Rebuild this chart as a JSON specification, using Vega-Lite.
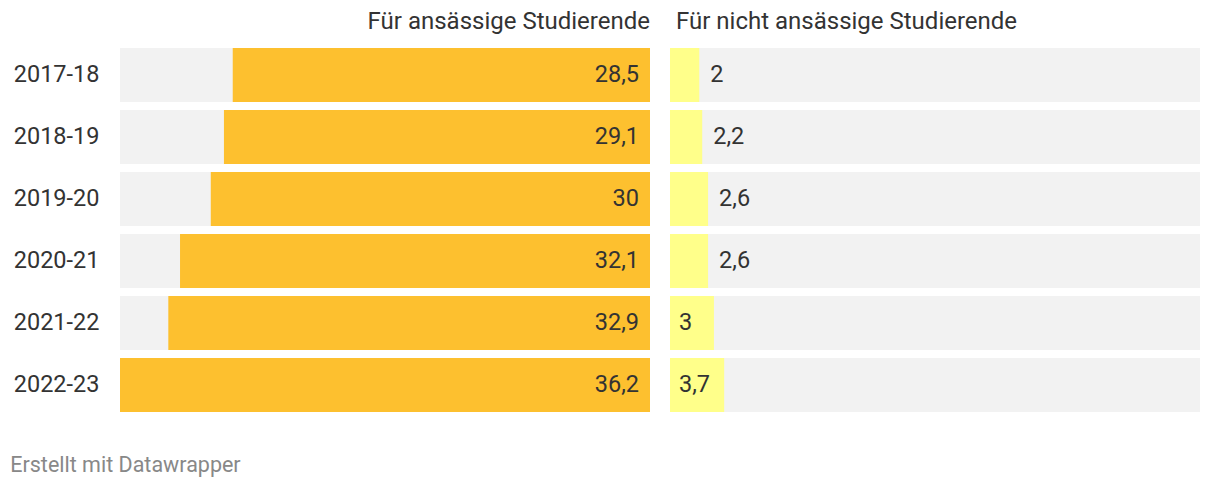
{
  "$schema": "https://vega.github.io/schema/vega-lite/v6.json",
  "padding": {"left": 10, "top": 10, "right": 0, "bottom": 0},
  "background": "white",
  "title": {"text": "Erstellt mit Datawrapper", "orient": "bottom", "anchor": "start", "dx": -3, "offset": 43, "fontSize": 21.5, "fontWeight": "normal", "color": "#888888", "font": "Roboto", "baseline": "top"},
  "data": {"values": [
    {"jahr": "2017-18", "ansaessig": 28.5, "nicht": 2.0},
    {"jahr": "2018-19", "ansaessig": 29.1, "nicht": 2.2},
    {"jahr": "2019-20", "ansaessig": 30.0, "nicht": 2.6},
    {"jahr": "2020-21", "ansaessig": 32.1, "nicht": 2.6},
    {"jahr": "2021-22", "ansaessig": 32.9, "nicht": 3.0},
    {"jahr": "2022-23", "ansaessig": 36.2, "nicht": 3.7}
  ]},
  "spacing": 20,
  "hconcat": [
    {
      "width": 530,
      "height": 364,
      "title": {"text": "Für ansässige Studierende", "anchor": "end", "fontSize": 24, "fontWeight": "normal", "color": "#333333", "font": "Roboto", "offset": 14},
      "encoding": {
        "y": {"field": "jahr", "type": "nominal", "sort": null, "title": null,
          "scale": {"paddingInner": 0.129, "paddingOuter": 0},
          "axis": {"ticks": false, "domain": false, "labelFontSize": 23.5, "labelColor": "#333333", "labelFont": "Roboto", "labelPadding": 21}}
      },
      "layer": [
        {
          "mark": {"type": "bar", "color": "#f2f2f2"},
          "encoding": {
            "x": {"datum": 36.2, "type": "quantitative", "scale": {"domain": [0, 36.2], "reverse": true, "nice": false}, "axis": null},
            "x2": {"datum": 0}
          }
        },
        {
          "mark": {"type": "bar", "color": "#fdc02f"},
          "encoding": {
            "x": {"field": "ansaessig", "type": "quantitative"},
            "x2": {"datum": 0}
          }
        },
        {
          "mark": {"type": "text", "align": "right", "dx": -11, "fontSize": 23.5, "font": "Roboto", "color": "#333333"},
          "encoding": {
            "x": {"datum": 0, "type": "quantitative"},
            "text": {"field": "ansaessig", "type": "quantitative", "format": ".1~f"}
          }
        }
      ]
    },
    {
      "width": 530,
      "height": 364,
      "title": {"text": "Für nicht ansässige Studierende", "anchor": "start", "fontSize": 24, "fontWeight": "normal", "color": "#333333", "font": "Roboto", "offset": 14, "dx": 6},
      "encoding": {
        "y": {"field": "jahr", "type": "nominal", "sort": null, "title": null,
          "scale": {"paddingInner": 0.129, "paddingOuter": 0}, "axis": null}
      },
      "layer": [
        {
          "mark": {"type": "bar", "color": "#f2f2f2"},
          "encoding": {
            "x": {"datum": 0, "type": "quantitative", "scale": {"domain": [0, 36.2], "nice": false}, "axis": null},
            "x2": {"datum": 36.2}
          }
        },
        {
          "mark": {"type": "bar", "color": "#ffff8a"},
          "encoding": {
            "x": {"field": "nicht", "type": "quantitative"},
            "x2": {"datum": 0}
          }
        },
        {
          "transform": [{"filter": "datum.nicht < 3"}],
          "mark": {"type": "text", "align": "left", "dx": 11, "fontSize": 23.5, "font": "Roboto", "color": "#333333"},
          "encoding": {
            "x": {"field": "nicht", "type": "quantitative"},
            "text": {"field": "nicht", "type": "quantitative", "format": ".1~f"}
          }
        },
        {
          "transform": [{"filter": "datum.nicht >= 3"}],
          "mark": {"type": "text", "align": "left", "dx": 9, "fontSize": 23.5, "font": "Roboto", "color": "#333333"},
          "encoding": {
            "x": {"datum": 0, "type": "quantitative"},
            "text": {"field": "nicht", "type": "quantitative", "format": ".1~f"}
          }
        }
      ]
    }
  ],
  "config": {
    "view": {"stroke": null},
    "locale": {"number": {"decimal": ",", "thousands": ".", "grouping": [3], "currency": ["", " €"]}}
  }
}
